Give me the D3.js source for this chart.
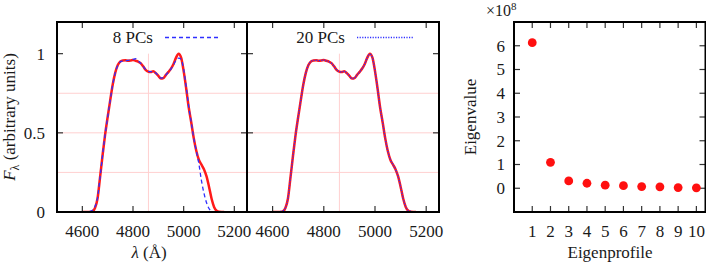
<!DOCTYPE html>
<html>
<head>
<meta charset="utf-8">
<script src="https://cdn.jsdelivr.net/npm/d3@7"></script>
<style>
  html, body { margin: 0; padding: 0; background: #fff; }
  svg { display: block; }
  text { font-family: 'Liberation Serif', serif; fill: #1a1a1a; }
</style>
</head>
<body>
<svg id="chart" width="706" height="274"></svg>
<script>
// ---------- data ----------
const wavelength = [4600,4610,4620,4630,4640,4650,4660,4670,4680,4690,4700,4710,4720,4730,4740,4750,4760,4770,4780,4790,4800,4810,4820,4830,4840,4850,4860,4870,4880,4890,4900,4910,4920,4930,4940,4950,4960,4970,4980,4990,5000,5010,5020,5030,5040,5050,5060,5070,5080,5090,5100,5110,5120,5130,5140,5150,5160];
const fluxObserved = [0,0,0,0,0.004,0.025,0.085,0.22,0.36,0.49,0.60,0.705,0.805,0.88,0.928,0.951,0.957,0.958,0.956,0.957,0.96,0.955,0.95,0.94,0.92,0.898,0.887,0.884,0.889,0.877,0.86,0.843,0.846,0.866,0.885,0.906,0.935,0.975,1.0,0.975,0.89,0.78,0.66,0.565,0.465,0.385,0.33,0.30,0.27,0.226,0.16,0.085,0.032,0.008,0.001,0,0];
const flux8PCs = [0,0,0,0.004,0.012,0.035,0.09,0.22,0.36,0.49,0.60,0.705,0.805,0.88,0.925,0.948,0.953,0.955,0.957,0.96,0.964,0.968,0.955,0.94,0.92,0.9,0.888,0.886,0.888,0.878,0.862,0.846,0.848,0.866,0.884,0.904,0.93,0.958,0.972,0.965,0.9,0.79,0.665,0.565,0.465,0.385,0.305,0.2,0.12,0.06,0.022,0.004,0,0,0,0,0];
const flux20PCs = [0,0,0.002,0.004,0.008,0.027,0.085,0.22,0.36,0.49,0.60,0.705,0.805,0.88,0.928,0.951,0.957,0.958,0.956,0.957,0.96,0.955,0.95,0.94,0.92,0.898,0.887,0.884,0.889,0.877,0.86,0.843,0.846,0.866,0.885,0.906,0.935,0.975,0.998,0.975,0.89,0.78,0.66,0.565,0.465,0.385,0.332,0.30,0.27,0.226,0.16,0.085,0.034,0.01,0.004,0.001,0];
const eigenIndex = [1,2,3,4,5,6,7,8,9,10];
const eigenValue = [6.13,1.09,0.31,0.21,0.13,0.11,0.07,0.06,0.03,0.02]; // x 10^8

const lambdaTicks = [4600,4800,5000,5200];
const fluxTicks = [0,0.5,1];
const fluxTickLabels = ["0","0.5","1"];
const gridFlux = [0.25,0.5,0.75];
const hBetaLine = 4861;
const eigenYTicks = [0,1,2,3,4,5,6];
const legendLabels = ["8 PCs","20 PCs"];

// ---------- layout ----------
const svg = d3.select("#chart");
const yTop = 22, yBottom = 212;
const tickLen = 6;
const blue = "#2f2fff";

const y = d3.scaleLinear().domain([0,1.2]).range([yBottom, yTop]);

const panels = [
  {x0: 57, x1: 247, model: flux8PCs, dash: "4,3", label: legendLabels[0], legX: [165,218]},
  {x0: 247, x1: 439, model: flux20PCs, dash: "1.2,1.4", label: legendLabels[1], legX: [357,413]}
];

panels.forEach((p, i) => {
  const x = d3.scaleLinear().domain([4500,5250]).range([p.x0, p.x1]);
  const g = svg.append("g");
  const clipId = "clip" + i;
  svg.append("clipPath").attr("id", clipId).append("rect")
    .attr("x", p.x0).attr("y", yTop).attr("width", p.x1 - p.x0).attr("height", yBottom - yTop);

  // grid
  g.selectAll(".hg").data(gridFlux).join("line")
    .attr("x1", p.x0).attr("x2", p.x1)
    .attr("y1", d => y(d)).attr("y2", d => y(d))
    .attr("stroke", "#ffd0d0").attr("stroke-width", 1);
  g.append("line")
    .attr("x1", x(hBetaLine)).attr("x2", x(hBetaLine))
    .attr("y1", y(0)).attr("y2", y(1))
    .attr("stroke", "#ffd0d0").attr("stroke-width", 1);

  // curves
  const line = d3.line().x((d, j) => x(wavelength[j])).y(d => y(d)).curve(d3.curveMonotoneX);
  const cg = g.append("g").attr("clip-path", `url(#${clipId})`);
  cg.append("path").datum(fluxObserved).attr("d", line)
    .attr("fill", "none").attr("stroke", "#ff1a1a").attr("stroke-width", 2.5)
    .attr("stroke-linejoin", "round");
  cg.append("path").datum(p.model).attr("d", line)
    .attr("fill", "none").attr("stroke", blue).attr("stroke-width", 1.3)
    .attr("stroke-dasharray", p.dash);

  // ticks (inward, mirrored)
  lambdaTicks.forEach(t => {
    g.append("line").attr("x1", x(t)).attr("x2", x(t)).attr("y1", yBottom).attr("y2", yBottom - tickLen)
      .attr("stroke", "#333").attr("stroke-width", 1.2);
    g.append("line").attr("x1", x(t)).attr("x2", x(t)).attr("y1", yTop).attr("y2", yTop + tickLen)
      .attr("stroke", "#333").attr("stroke-width", 1.2);
    g.append("text").attr("x", x(t)).attr("y", 237).attr("text-anchor", "middle")
      .attr("font-size", 17).text(t);
  });
  fluxTicks.forEach((t, k) => {
    g.append("line").attr("x1", p.x0).attr("x2", p.x0 + tickLen).attr("y1", y(t)).attr("y2", y(t))
      .attr("stroke", "#333").attr("stroke-width", 1.2);
    g.append("line").attr("x1", p.x1).attr("x2", p.x1 - tickLen).attr("y1", y(t)).attr("y2", y(t))
      .attr("stroke", "#333").attr("stroke-width", 1.2);
    if (i === 0) {
      g.append("text").attr("x", 45).attr("y", y(t)).attr("dy", "0.35em").attr("text-anchor", "end")
        .attr("font-size", 17).text(fluxTickLabels[k]);
    }
  });

  // legend
  g.append("text").attr("x", p.legX[0] - 12).attr("y", 43).attr("text-anchor", "end")
    .attr("font-size", 17).text(p.label);
  g.append("line").attr("x1", p.legX[0]).attr("x2", p.legX[1]).attr("y1", 37.5).attr("y2", 37.5)
    .attr("stroke", blue).attr("stroke-width", 1.3).attr("stroke-dasharray", p.dash);

  // frame
  g.append("rect").attr("x", p.x0).attr("y", yTop).attr("width", p.x1 - p.x0).attr("height", yBottom - yTop)
    .attr("fill", "none").attr("stroke", "#000").attr("stroke-width", 2);
});

// axis titles for the spectral panels
const yl = svg.append("text").attr("transform", "translate(15,117) rotate(-90)")
  .attr("text-anchor", "middle").attr("font-size", 17);
yl.append("tspan").attr("font-style", "italic").text("F");
yl.append("tspan").attr("font-size", 12).attr("dy", 4).text("λ");
yl.append("tspan").attr("dy", -4).text(" (arbitrary units)");

const xl = svg.append("text").attr("x", 149).attr("y", 258).attr("text-anchor", "middle").attr("font-size", 17);
xl.append("tspan").attr("font-style", "italic").text("λ");
xl.append("tspan").text(" (Å)");

// ---------- eigenvalue panel ----------
const ex0 = 514, ex1 = 705.5;
const ex = d3.scaleLinear().domain([0,10.5]).range([ex0, ex1]);
const ey = d3.scaleLinear().domain([-1,7]).range([yBottom, yTop]);
const eg = svg.append("g");

eigenYTicks.forEach(t => {
  eg.append("line").attr("x1", ex0).attr("x2", ex0 + tickLen).attr("y1", ey(t)).attr("y2", ey(t))
    .attr("stroke", "#333").attr("stroke-width", 1.2);
  eg.append("line").attr("x1", ex1).attr("x2", ex1 - tickLen).attr("y1", ey(t)).attr("y2", ey(t))
    .attr("stroke", "#333").attr("stroke-width", 1.2);
  eg.append("text").attr("x", 505).attr("y", ey(t)).attr("dy", "0.35em").attr("text-anchor", "end")
    .attr("font-size", 17).text(t);
});
eigenIndex.forEach(t => {
  eg.append("line").attr("x1", ex(t)).attr("x2", ex(t)).attr("y1", yBottom).attr("y2", yBottom - tickLen)
    .attr("stroke", "#333").attr("stroke-width", 1.2);
  eg.append("line").attr("x1", ex(t)).attr("x2", ex(t)).attr("y1", yTop).attr("y2", yTop + tickLen)
    .attr("stroke", "#333").attr("stroke-width", 1.2);
  eg.append("text").attr("x", ex(t)).attr("y", 237).attr("text-anchor", "middle")
    .attr("font-size", 17).text(t);
});

eg.selectAll("circle").data(eigenIndex).join("circle")
  .attr("cx", d => ex(d)).attr("cy", (d, i) => ey(eigenValue[i])).attr("r", 4.4)
  .attr("fill", "#ff1010");

eg.append("rect").attr("x", ex0).attr("y", yTop).attr("width", ex1 - ex0).attr("height", yBottom - yTop)
  .attr("fill", "none").attr("stroke", "#000").attr("stroke-width", 2);

const mult = eg.append("text").attr("x", 486).attr("y", 16).attr("font-size", 16);
mult.append("tspan").text("×10");
mult.append("tspan").attr("font-size", 11).attr("dy", -6).text("8");

eg.append("text").attr("x", 610).attr("y", 258).attr("text-anchor", "middle").attr("font-size", 17).text("Eigenprofile");
eg.append("text").attr("transform", "translate(476,117) rotate(-90)").attr("text-anchor", "middle")
  .attr("font-size", 17).text("Eigenvalue");
</script>
</body>
</html>
